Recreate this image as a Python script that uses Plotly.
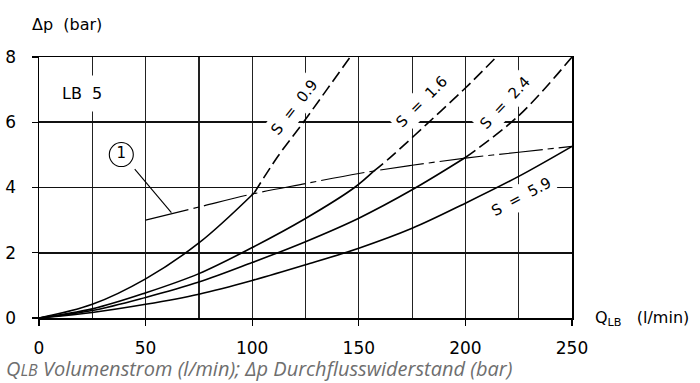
import plotly.graph_objects as go

# ---------------- data ----------------
# S = 0.9
s09_solid_q = [0, 25, 50, 75, 101]
s09_solid_p = [0, 0.42, 1.2, 2.3, 3.84]
s09_dash_q = [101, 112, 124, 135, 146]
s09_dash_p = [3.84, 4.95, 6.0, 7.0, 8.0]

# S = 1.6
s16_solid_q = [0, 25, 50, 75, 100, 125, 148, 157]
s16_solid_p = [0, 0.28, 0.77, 1.36, 2.16, 3.05, 4.0, 4.5]
s16_dash_q = [157, 164.4, 182, 200, 214.5]
s16_dash_p = [4.5, 4.9, 5.95, 7.05, 8.0]

# S = 2.4
s24_solid_q = [0, 25, 50, 75, 100, 125, 150, 175, 200]
s24_solid_p = [0, 0.23, 0.63, 1.1, 1.70, 2.34, 3.06, 3.93, 4.92]
s24_dash_q = [200, 225, 250]
s24_dash_p = [4.92, 6.2, 8.0]

# S = 5.9
s59_q = [0, 25, 50, 75, 100, 125, 150, 175, 200, 225, 250]
s59_p = [0, 0.17, 0.42, 0.73, 1.15, 1.63, 2.14, 2.75, 3.52, 4.34, 5.26]

# boundary line (1)
limit_q = [50, 75, 100, 125, 150, 175, 200, 225, 250]
limit_p = [3.0, 3.4, 3.8, 4.12, 4.43, 4.68, 4.9, 5.08, 5.26]

# marker (1) and its leader line
marker_q = [38.6]
marker_p = [5.01]
leader_q = [44.9, 62.1]
leader_p = [4.56, 3.23]

# curve labels: text, position, angle
label_texts = ["S\u00a0 =\u00a0 0.9", "S\u00a0 =\u00a0 1.6", "S\u00a0 =\u00a0 2.4", "S\u00a0 =\u00a0 5.9"]
label_q = [119.9, 179.3, 218.6, 226.1]
label_p = [6.46, 6.63, 6.58, 3.70]
label_angle = [-52, -45, -47, -28]

x_ticks = [0, 50, 100, 150, 200, 250]
y_ticks = [0, 2, 4, 6, 8]

# ---------------- figure ----------------
FONT = "DejaVu Sans"
fig = go.Figure()

curve = dict(color="black", width=1.6)
dashed = dict(color="black", width=1.6, dash="12px,5px")

for q, p, ln in [
    (s09_solid_q, s09_solid_p, curve), (s09_dash_q, s09_dash_p, dashed),
    (s16_solid_q, s16_solid_p, curve), (s16_dash_q, s16_dash_p, dashed),
    (s24_solid_q, s24_solid_p, curve), (s24_dash_q, s24_dash_p, dashed),
    (s59_q, s59_p, curve),
]:
    fig.add_trace(go.Scatter(x=q, y=p, mode="lines", line=dict(shape="spline", smoothing=1.0, **ln),
                             hoverinfo="skip"))

fig.add_trace(go.Scatter(x=limit_q, y=limit_p, mode="lines",
                         line=dict(color="black", width=1.1, shape="spline", dash="44px,5px,6px,5px"),
                         hoverinfo="skip"))
fig.add_trace(go.Scatter(x=leader_q, y=leader_p, mode="lines",
                         line=dict(color="black", width=1.1), hoverinfo="skip"))
fig.add_trace(go.Scatter(x=marker_q, y=marker_p, mode="markers+text", text=["1"],
                         textposition="middle center", textfont=dict(family=FONT, size=15, color="black"),
                         marker=dict(symbol="circle", size=24, color="white",
                                     line=dict(color="black", width=1.1)),
                         hoverinfo="skip"))

for t, q, p, a in zip(label_texts, label_q, label_p, label_angle):
    fig.add_annotation(x=q, y=p, text=t, textangle=a, showarrow=False,
                       font=dict(family=FONT, size=15, color="black"),
                       bgcolor="white", borderpad=3)

fig.add_annotation(x=20, y=6.87, text="LB\u00a0\u00a05", showarrow=False,
                   font=dict(family=FONT, size=16, color="black"), bgcolor="white", borderpad=8)

# axis captions
fig.add_annotation(xref="paper", yref="paper", x=-0.017, y=1.126, xanchor="left", yanchor="middle",
                   text="\u0394p\u00a0 (bar)", showarrow=False,
                   font=dict(family=FONT, size=16, color="black"))
fig.add_annotation(xref="paper", yref="y", x=1.04, y=0, xanchor="left", yanchor="middle",
                   text="Q<sub>LB</sub>\u00a0\u00a0\u00a0(l/min)", showarrow=False,
                   font=dict(family=FONT, size=16, color="black"))
fig.add_annotation(xref="paper", yref="paper", x=-0.066, y=-0.194, xanchor="left", yanchor="middle",
                   text="<i>Q<span style='font-size:16px'>LB</span> Volumenstrom (l/min); \u0394p Durchflusswiderstand (bar)</i>",
                   showarrow=False, font=dict(family="Open Sans", size=20, color="#6e6e6e"))

fig.update_xaxes(range=[0, 250], tickvals=x_ticks, ticktext=[str(v) for v in x_ticks],
                 automargin=False,
                 showgrid=True, gridcolor="#222", gridwidth=1.2,
                 minor=dict(dtick=25, tick0=0, showgrid=True, gridcolor="#222", gridwidth=1.2, ticks=""),
                 showline=True, mirror=True, linecolor="black", linewidth=1.5,
                 ticks="outside", ticklen=6, tickcolor="black", tickwidth=1.4,
                 ticklabelstandoff=8, zeroline=False,
                 tickfont=dict(family=FONT, size=17, color="black"))
fig.update_yaxes(range=[0, 8], tickvals=y_ticks, ticktext=[str(v) for v in y_ticks],
                 automargin=False,
                 showgrid=True, gridcolor="#111", gridwidth=1.6,
                 showline=True, mirror=True, linecolor="black", linewidth=1.5,
                 ticks="outside", ticklen=6, tickcolor="black", tickwidth=1.4,
                 ticklabelstandoff=12, zeroline=False,
                 tickfont=dict(family=FONT, size=17, color="black"))

fig.update_layout(width=700, height=383, margin=dict(l=39, r=128, t=57, b=65),
                  plot_bgcolor="white", paper_bgcolor="white", showlegend=False,
                  hovermode=False)

fig.write_html("out.html", config={"displayModeBar": False, "staticPlot": True},
               post_script="document.body.style.margin='0';")
